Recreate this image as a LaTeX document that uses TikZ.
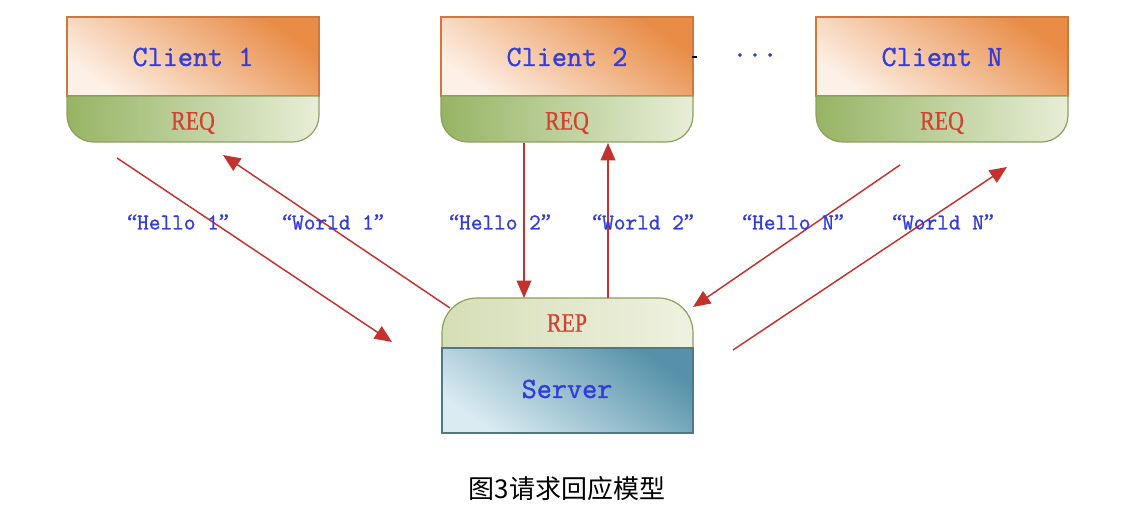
\documentclass[tikz,border=0pt]{standalone}
\usepackage{fontspec}
\newfontfamily\cjk{Noto Sans CJK SC}
\newfontfamily\reqfont[FakeStretch=0.82,FakeBold=0.6]{Liberation Serif}
\newfontfamily\quotefont[FakeBold=1]{Liberation Serif}
\newfontfamily\monob[FakeBold=1.2]{Latin Modern Mono}
\usetikzlibrary{arrows.meta}
\definecolor{orangedark}{RGB}{232,140,70}
\definecolor{orangelight}{RGB}{253,240,230}
\definecolor{orangeborder}{RGB}{205,120,60}
\definecolor{greendark}{RGB}{150,180,100}
\definecolor{greenlight}{RGB}{232,238,215}
\definecolor{greenborder}{RGB}{140,160,95}
\definecolor{repdark}{RGB}{214,222,182}
\definecolor{replight}{RGB}{238,241,224}
\definecolor{bluedark}{RGB}{85,145,168}
\definecolor{bluelight}{RGB}{218,235,242}
\definecolor{blueborder}{RGB}{80,120,140}
\definecolor{txtblue}{RGB}{50,60,220}
\definecolor{reqred}{RGB}{210,65,50}
\definecolor{arrred}{RGB}{195,50,45}
\newcommand\myLq{{\quotefont “}}
\newcommand\myRq{{\quotefont ”}}
\tikzset{
  toppart/.style={draw=orangeborder, line width=0.9pt, top color=orangedark, bottom color=orangelight, shading angle=-35},
  reqpart/.style={draw=greenborder, line width=0.9pt, left color=greendark, right color=greenlight},
  reppart/.style={draw=greenborder, line width=0.9pt, left color=repdark, right color=replight},
  srvpart/.style={draw=blueborder, line width=0.9pt, top color=bluedark, bottom color=bluelight, shading angle=-35},
  cname/.style={text=txtblue, font=\monob\fontsize{22}{24}\selectfont},
  reqtxt/.style={text=reqred, font=\reqfont\fontsize{20}{22}\selectfont},
  msg/.style={text=txtblue, font=\monob\fontsize{17}{19}\selectfont},
  arr/.style={draw=arrred, line width=1.1pt, -{Triangle[length=13pt,width=11pt]}},
}
\begin{document}
\begin{tikzpicture}[x=0.75pt,y=-0.75pt]
\useasboundingbox[fill=white] (0,0) rectangle (1128,520);
% clients
\foreach \xx/\lab/\nm in {67/Client 1/c1, 441/Client 2/c2, 816/Client N/cn}{
  \path[toppart] (\xx,17) rectangle (\xx+252,96);
  \path[reqpart, rounded corners=20pt] (\xx,96) -- (\xx,142) -- (\xx+252,142) [sharp corners] -- (\xx+252,96) -- cycle;
  \node[cname] (\nm) at (\xx+126,57) {\lab};
  \node[reqtxt] (\nm req) at (\xx+126,123) {REQ};
}
% server
\path[reppart, rounded corners=26pt] (442,348) -- (442,298) -- (693,298) [sharp corners] -- (693,348) -- cycle;
\path[srvpart] (442,348) rectangle (693,433);
\node[reqtxt] (rep) at (567,323) {REP};
\node[cname] (server) at (567,389) {Server};
% small tick and dots
\coordinate (tk1) at (692,57);
\coordinate (tk2) at (697,57);
\draw[line width=1pt] (tk1) -- (tk2);
\node[text=txtblue, font=\monob\fontsize{22}{24}\selectfont] (dots) at (755,55) {...};
% arrows
\coordinate (h1s) at (117,158); \coordinate (h1e) at (392,342);
\coordinate (w1s) at (450,308); \coordinate (w1e) at (223,155);
\coordinate (h2s) at (524,143); \coordinate (h2e) at (524,298);
\coordinate (w2s) at (608,298); \coordinate (w2e) at (608,143);
\coordinate (hns) at (900,165); \coordinate (hne) at (693,307);
\coordinate (wns) at (733,350); \coordinate (wne) at (1007,167);
\draw[arr] (h1s) -- (h1e);
\draw[arr] (w1s) -- (w1e);
\draw[arr] (h2s) -- (h2e);
\draw[arr] (w2s) -- (w2e);
\draw[arr] (hns) -- (hne);
\draw[arr] (wns) -- (wne);
% labels
\node[msg] (l1) at (178,222) {\myLq Hello 1\myRq};
\node[msg] (l2) at (333,222) {\myLq World 1\myRq};
\node[msg] (l3) at (500,222) {\myLq Hello 2\myRq};
\node[msg] (l4) at (643,222) {\myLq World 2\myRq};
\node[msg] (l5) at (793,222) {\myLq Hello N\myRq};
\node[msg] (l6) at (943,222) {\myLq World N\myRq};
% caption
\node[font=\cjk\fontsize{19.5}{22}\selectfont] (cap) at (567,489) {图3请求回应模型};
\end{tikzpicture}
\end{document}
